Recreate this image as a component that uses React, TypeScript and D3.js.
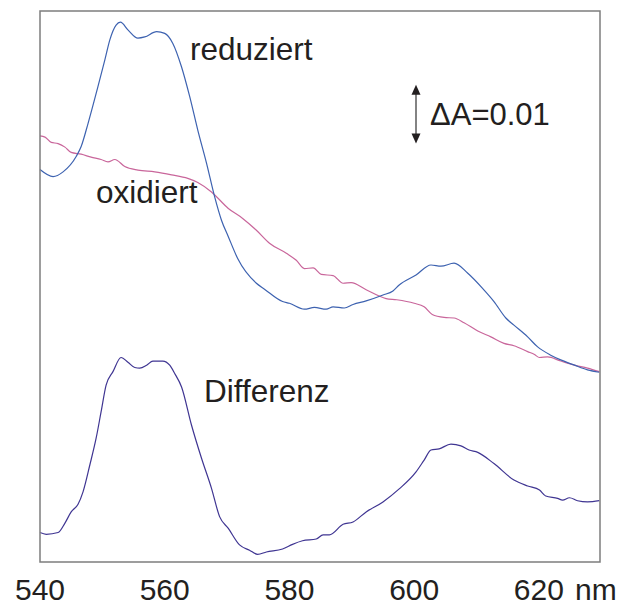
import React from "react";
import * as d3 from "d3";

// wavelength (nm) and absorbance (mA units, i.e. 1e-3 absorbance)
const reduziertNm = [540.0, 542.1, 543.7, 545.8, 546.6, 547.7, 549.3, 550.4, 551.2, 552.2, 552.9, 554.1, 555.7, 556.8, 558.7, 560.0, 561.3, 562.7, 564.0, 565.3, 566.7, 568.0, 569.1, 570.2, 571.7, 574.7, 576.0, 578.9, 580.0, 582.4, 584.0, 585.9, 587.0, 588.8, 590.2, 592.3, 595.0, 596.6, 597.6, 600.3, 602.7, 604.3, 606.4, 608.6, 611.0, 612.8, 614.7, 616.0, 618.2, 619.8, 621.9, 623.5, 625.7, 627.8, 629.7];
const reduziertA = [66.6, 65.4, 66.2, 68.8, 70.5, 74.4, 80.7, 85.2, 88.6, 91.1, 91.6, 90.3, 88.9, 89.1, 90.0, 89.7, 88.0, 84.0, 79.0, 73.3, 67.7, 62.0, 58.0, 55.2, 51.5, 47.3, 46.3, 44.2, 43.9, 42.9, 43.2, 42.9, 43.3, 43.1, 43.7, 44.3, 45.3, 46.0, 47.0, 48.7, 50.4, 50.2, 50.7, 49.0, 46.4, 44.2, 41.4, 40.2, 38.2, 36.5, 35.1, 34.3, 33.4, 32.6, 32.2];

const oxidiertNm = [540.0, 540.8, 541.8, 542.9, 544.0, 545.0, 546.6, 548.2, 549.8, 550.9, 552.0, 553.6, 555.7, 558.4, 561.1, 563.7, 565.3, 567.5, 570.2, 572.5, 574.7, 576.8, 579.5, 581.1, 582.4, 583.8, 585.1, 587.0, 588.6, 589.9, 592.3, 595.5, 597.2, 600.0, 601.6, 602.9, 604.8, 606.4, 608.0, 610.2, 612.3, 614.4, 616.0, 618.2, 619.3, 620.1, 621.4, 623.5, 625.7, 627.8, 629.7];
const oxidiertA = [72.3, 72.1, 71.2, 71.0, 70.4, 69.5, 69.2, 68.7, 68.3, 67.9, 68.3, 67.1, 66.5, 66.2, 65.7, 65.1, 64.4, 62.8, 60.0, 58.3, 56.3, 54.1, 52.4, 51.2, 49.8, 49.9, 48.8, 48.6, 47.3, 47.4, 46.2, 44.7, 44.5, 43.9, 43.3, 42.0, 41.5, 41.4, 40.6, 39.2, 38.2, 37.1, 36.7, 35.7, 35.2, 34.7, 34.8, 34.1, 33.4, 32.9, 32.3];

const differenzNm = [540.0, 541.0, 542.9, 544.0, 545.0, 546.1, 546.9, 548.0, 549.0, 549.8, 550.6, 551.7, 553.0, 554.1, 555.2, 556.0, 557.1, 558.1, 559.7, 560.8, 561.6, 562.7, 564.3, 565.9, 567.5, 568.8, 570.2, 572.0, 573.6, 574.9, 576.3, 578.9, 580.5, 582.1, 584.3, 585.4, 586.4, 588.6, 590.2, 592.3, 595.0, 597.6, 600.3, 601.6, 602.7, 604.0, 605.9, 607.5, 608.8, 610.2, 612.8, 616.0, 618.2, 620.1, 621.1, 623.0, 623.8, 624.9, 626.2, 627.8, 629.7];
const differenzA = [5.0, 4.7, 5.0, 6.6, 8.5, 9.8, 11.9, 16.5, 21.0, 25.5, 30.0, 32.3, 34.7, 33.9, 33.0, 32.9, 33.4, 34.1, 34.1, 33.4, 32.0, 29.7, 23.2, 17.6, 12.5, 7.7, 5.7, 2.9, 2.0, 1.3, 1.7, 2.2, 3.0, 3.6, 3.9, 4.6, 4.6, 6.4, 6.8, 8.5, 10.2, 12.4, 15.3, 17.3, 19.0, 19.2, 20.0, 19.7, 19.0, 18.6, 16.7, 13.9, 12.9, 12.2, 11.2, 10.8, 10.5, 10.9, 10.4, 10.2, 10.4];

const tickValues = [540, 560, 580, 600, 620];
const unitLabel = "nm";
const scaleBar = { from: 71, to: 81, label: "ΔA=0.01" };

const xDomain = [540, 629.8];
const yDomain = [0, 93.5];

const FONT = "'Liberation Sans', Arial, Helvetica, sans-serif";
const TEXT = "#231f20";

export default function App() {
  const x = d3.scaleLinear().domain(xDomain).range([40, 600]);
  const y = d3.scaleLinear().domain(yDomain).range([562, 11]);
  const line = d3
    .line<[number, number]>()
    .x((d) => x(d[0]))
    .y((d) => y(d[1]))
    .curve(d3.curveMonotoneX);
  const zip = (a: number[], b: number[]) => a.map((v, i) => [v, b[i]] as [number, number]);

  const series = [
    { d: zip(oxidiertNm, oxidiertA), color: "#c9669b" },
    { d: zip(reduziertNm, reduziertA), color: "#3d62b0" },
    { d: zip(differenzNm, differenzA), color: "#3f3592" },
  ];

  const ax = 416;
  const yTop = y(scaleBar.to);
  const yBot = y(scaleBar.from);

  return (
    <svg
      width={623}
      height={607}
      style={{ position: "absolute", left: 0, top: 0, background: "#fff" }}
      fontFamily={FONT}
    >
      <rect x={0} y={0} width={623} height={607} fill="#fff" />
      {series.map((s, i) => (
        <path key={i} d={line(s.d) || ""} fill="none" stroke={s.color} strokeWidth={1.2} />
      ))}
      <rect
        x={x(xDomain[0])}
        y={y(yDomain[1])}
        width={x(xDomain[1]) - x(xDomain[0])}
        height={y(yDomain[0]) - y(yDomain[1])}
        fill="none"
        stroke="#7d7d7d"
        strokeWidth={1.5}
      />
      {tickValues.map((t) => (
        <text key={t} x={x(t)} y={600} textAnchor="middle" fontSize={30} fill={TEXT}>
          {t}
        </text>
      ))}
      <text x={575} y={600} fontSize={30} fill={TEXT}>
        {unitLabel}
      </text>
      <text x={190} y={60} fontSize={31.5} fill={TEXT}>reduziert</text>
      <text x={96} y={203} fontSize={31.5} fill={TEXT}>oxidiert</text>
      <text x={204} y={402} fontSize={31.5} fill={TEXT}>Differenz</text>
      <line x1={ax} x2={ax} y1={yTop + 8} y2={yBot - 8} stroke="#5a5a5a" strokeWidth={1.5} />
      <path d={`M${ax},${yTop} L${ax - 4.5},${yTop + 10} L${ax + 4.5},${yTop + 10} Z`} fill={TEXT} />
      <path d={`M${ax},${yBot} L${ax - 4.5},${yBot - 10} L${ax + 4.5},${yBot - 10} Z`} fill={TEXT} />
      <text x={430} y={125} fontSize={31} fill={TEXT}>{scaleBar.label}</text>
    </svg>
  );
}
